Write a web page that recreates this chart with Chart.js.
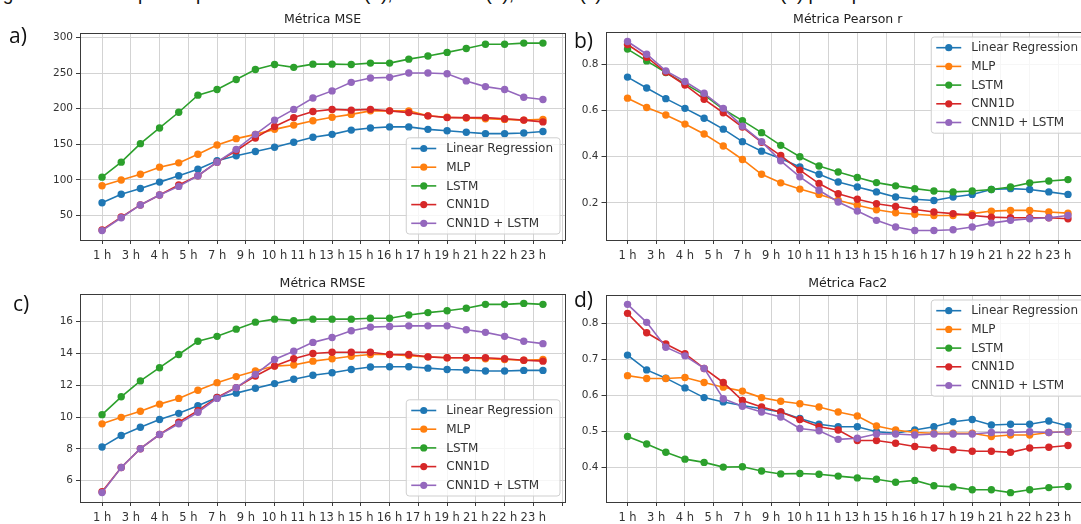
<!DOCTYPE html>
<html><head><meta charset="utf-8">
<script src="https://cdn.jsdelivr.net/npm/chart.js@4.4.1/dist/chart.umd.min.js"></script>
<style>
html,body{margin:0;padding:0;background:#fff;width:1081px;height:524px;overflow:hidden;position:relative;}
canvas{position:absolute;}
.lab{position:absolute;font-family:"Open Sans","Liberation Sans",sans-serif;font-size:21px;color:#111;line-height:1;}
#cap{position:absolute;left:-13px;top:-17px;font-family:"Liberation Sans",sans-serif;font-size:19px;white-space:nowrap;color:#111;line-height:1.2;}
</style></head><body>
<div id="cap">Figura 9 – Desempenho por horizonte: MSE (a), Pearson r (b), RMSE (c) e fator de dois Fac2 (d) para previsões</div>
<canvas id="cA" width="575" height="262" style="left:0;top:0"></canvas>
<canvas id="cB" width="560" height="262" style="left:540px;top:0"></canvas>
<canvas id="cC" width="575" height="262" style="left:0;top:262px"></canvas>
<canvas id="cD" width="560" height="262" style="left:540px;top:262px"></canvas>
<div class="lab" style="left:9px;top:25px">a)</div>
<div class="lab" style="left:574px;top:30px">b)</div>
<div class="lab" style="left:13px;top:293px">c)</div>
<div class="lab" style="left:574px;top:289px">d)</div>
<script>
// ---- data ----
const hours = ['1 h','2 h','3 h','4 h','5 h','6 h','7 h','8 h','9 h','10 h','11 h','12 h','13 h','14 h','15 h','16 h','17 h','18 h','19 h','20 h','21 h','22 h','23 h','24 h'];
const xTickLabels = ['1 h','3 h','4 h','5 h','7 h','9 h','10 h','11 h','13 h','15 h','16 h','17 h','19 h','21 h','22 h','23 h'];
const seriesNames = ['Linear Regression','MLP','LSTM','CNN1D','CNN1D + LSTM'];
const seriesColors = ['#1f77b4','#ff7f0e','#2ca02c','#d62728','#9467bd'];

const mseLR   = [68,80,88,97,106,115,127,134,140,146,153,160,164,170,173,174.5,174.5,171,169,167,165,165,166,168];
const mseMLP  = [92,100,108,118,124,136,149,158,164,171,177,183,188,192,197,197,197,190,188,187,186,185,184,185];
const mseLSTM = [104,125,151,173,195,219,227,241,255,262,258,262.5,262.5,262,264,264,269.5,274,279,284.5,290.5,290.5,292,292];
const mseCNN  = [30,48,65,79,93,106,125,141,159,175,187.5,196,199,198,199,197,194.5,190,187.5,187.5,187.5,186,184,181.5];
const mseCL   = [29,47,65,79,91,106,125,143,164,184,199,215,225,237,243,244,250,250,249,239,231,227,216,213];

const prLR   = [.744,.697,.651,.609,.566,.519,.465,.424,.392,.356,.324,.291,.269,.248,.226,.216,.211,.226,.237,.258,.262,.258,.248,.237];
const prMLP  = [.653,.613,.580,.541,.498,.446,.388,.324,.287,.260,.237,.212,.190,.171,.158,.151,.146,.146,.154,.165,.168,.168,.161,.156];
const prLSTM = [.865,.814,.764,.715,.667,.605,.556,.504,.449,.400,.360,.334,.310,.288,.274,.262,.252,.248,.252,.258,.269,.287,.295,.301];
const prCNN  = [.885,.830,.765,.710,.648,.590,.528,.462,.405,.342,.284,.240,.216,.197,.185,.172,.161,.154,.146,.139,.136,.136,.136,.132];
const prCL   = [.898,.843,.771,.725,.674,.609,.532,.465,.382,.313,.255,.204,.165,.125,.096,.081,.081,.084,.096,.113,.125,.132,.136,.146];

const rmLR   = [8.12,8.84,9.36,9.84,10.23,10.71,11.23,11.5,11.81,12.1,12.37,12.62,12.78,12.99,13.14,13.16,13.16,13.07,12.99,12.95,12.89,12.89,12.93,12.93];
const rmMLP  = [9.57,9.98,10.36,10.81,11.17,11.68,12.16,12.54,12.89,13.2,13.27,13.51,13.66,13.82,13.93,13.93,13.86,13.78,13.72,13.72,13.66,13.61,13.57,13.61];
const rmLSTM = [10.15,11.27,12.27,13.10,13.93,14.76,15.07,15.52,15.96,16.15,16.06,16.15,16.15,16.15,16.21,16.21,16.41,16.56,16.68,16.83,17.08,17.08,17.14,17.08];
const rmCNN  = [5.3,6.83,8.01,8.9,9.67,10.4,11.23,11.85,12.58,13.2,13.66,13.99,14.07,14.07,14.07,13.93,13.93,13.78,13.72,13.72,13.72,13.66,13.57,13.51];
const rmCL   = [5.25,6.83,8.01,8.9,9.57,10.3,11.17,11.85,12.68,13.61,14.13,14.69,15.0,15.42,15.65,15.69,15.73,15.73,15.73,15.48,15.32,15.07,14.76,14.61];

const fcLR   = [.711,.670,.647,.620,.593,.581,.571,.562,.553,.535,.519,.512,.512,.498,.494,.503,.512,.526,.532,.517,.519,.519,.528,.514];
const fcMLP  = [.654,.646,.646,.649,.635,.622,.611,.593,.583,.576,.567,.553,.542,.514,.503,.496,.494,.494,.494,.485,.489,.489,.496,.498];
const fcLSTM = [.485,.464,.441,.422,.413,.400,.401,.389,.381,.382,.380,.375,.370,.366,.358,.363,.348,.345,.337,.337,.329,.337,.343,.346];
const fcCNN  = [.827,.773,.742,.715,.674,.635,.585,.567,.553,.532,.512,.503,.474,.474,.466,.457,.453,.448,.444,.444,.441,.453,.455,.460];
const fcCL   = [.852,.802,.733,.709,.674,.590,.569,.553,.539,.507,.501,.477,.480,.492,.492,.489,.492,.492,.492,.496,.496,.498,.496,.498];

const yTicksMSE  = [50,100,150,200,250,300];
const yTicksPR   = [0.2,0.4,0.6,0.8];
const yTicksRMSE = [6,8,10,12,14,16];
const yTicksFAC  = [0.4,0.5,0.6,0.7,0.8];

// ---- drawing ----
const Y_FONT = {family:'"DejaVu Sans", sans-serif', size:10.5};
const X_FONT = {family:'"DejaVu Sans", sans-serif', size:11.5};
const xTickPos = []; for (let k = 0; k <= 16; k++) xTickPos.push(k * 1.5);

const framePlugin = {
  id:'frame',
  afterDatasetsDraw(chart){
    const {ctx, chartArea:a} = chart;
    ctx.save(); ctx.strokeStyle = '#3a3a3a'; ctx.lineWidth = 1;
    ctx.strokeRect(Math.round(a.left)+0.5, Math.round(a.top)+0.5, Math.round(a.right-a.left), Math.round(a.bottom-a.top));
    ctx.restore();
  }
};
const titleLegendPlugin = {
  id:'titleLegend',
  afterDraw(chart, args, o){
    const {ctx, chartArea:a} = chart;
    ctx.save();
    ctx.font = '12.5px "DejaVu Sans", sans-serif';
    ctx.fillStyle = '#222'; ctx.textAlign = 'center'; ctx.textBaseline = 'middle';
    ctx.fillText(o.title, (a.left + a.right)/2, a.top - o.dy);
    // legend
    ctx.font = '12px "DejaVu Sans", sans-serif';
    const ds = chart.data.datasets;
    let tw = 0; ds.forEach(d => tw = Math.max(tw, ctx.measureText(d.label).width));
    const rowH = 18.7, padX = 5, handle = 25, gap = 10, edge = 10.7;
    const w = padX + handle + gap + tw + 7, h = 2*edge + (ds.length-1)*rowH;
    const right = a.right - 5;
    const x0 = right - w;
    const y0 = o.loc === 'lower' ? a.bottom - 6 - h : a.top + 5;
    ctx.beginPath();
    if (ctx.roundRect) ctx.roundRect(x0, y0, w, h, 3); else ctx.rect(x0, y0, w, h);
    ctx.fillStyle = 'rgba(255,255,255,0.8)'; ctx.fill();
    ctx.strokeStyle = '#cfcfcf'; ctx.lineWidth = 1; ctx.stroke();
    ctx.textAlign = 'left';
    ds.forEach((d, k) => {
      const y = y0 + edge + k*rowH;
      ctx.strokeStyle = d.borderColor; ctx.lineWidth = 1.6;
      ctx.beginPath(); ctx.moveTo(x0+padX, y); ctx.lineTo(x0+padX+handle, y); ctx.stroke();
      ctx.fillStyle = d.borderColor;
      ctx.beginPath(); ctx.arc(x0+padX+handle/2, y, 3.6, 0, Math.PI*2); ctx.fill();
      ctx.fillStyle = '#333';
      ctx.fillText(d.label, x0+padX+handle+gap, y+0.5);
    });
    ctx.restore();
  }
};

function makePanel(id, series, yTicks, yMin, yMax, decimals, cfg){
  const datasets = series.map((vals, k) => ({
    label: seriesNames[k],
    data: vals.map((v, i) => ({x: i, y: v, h: hours[i]})),
    borderColor: seriesColors[k],
    backgroundColor: seriesColors[k],
    pointBackgroundColor: seriesColors[k],
    pointBorderColor: seriesColors[k],
    borderWidth: 1.6,
    pointRadius: 3.7,
    pointBorderWidth: 0,
    tension: 0,
    order: series.length - k
  }));
  new Chart(document.getElementById(id), {
    type: 'line',
    data: {datasets},
    plugins: [framePlugin, titleLegendPlugin],
    options: {
      responsive: false, animation: false, devicePixelRatio: 1,
      layout: {padding: {left: 0, right: cfg.padRight, top: cfg.padTop, bottom: 0}},
      plugins: {legend: {display: false}, tooltip: {enabled: false},
        titleLegend: {title: cfg.title, dy: cfg.dy, loc: cfg.loc}},
      scales: {
        x: {
          type: 'linear', min: -1.15, max: 24.15,
          afterBuildTicks: s => { s.ticks = xTickPos.map(v => ({value: v})); },
          afterFit: s => { s.height = 22; },
          ticks: {autoSkip: false, maxRotation: 0, minRotation: 0, padding: 5, color: '#333', font: X_FONT,
            callback: (v, i) => (xTickLabels[i] !== undefined ? xTickLabels[i] : '')},
          grid: {color: '#d3d3d3', lineWidth: 1, drawTicks: true, tickLength: 4, tickColor: '#3a3a3a', tickWidth: 1},
          border: {display: false}
        },
        y: {
          type: 'linear', min: yMin, max: yMax,
          afterBuildTicks: s => { s.ticks = yTicks.map(v => ({value: v})); },
          afterFit: s => { s.width = cfg.yWidth; },
          ticks: {padding: 3, color: '#333', font: Y_FONT, callback: v => v.toFixed(decimals)},
          grid: {color: '#d3d3d3', lineWidth: 1, drawTicks: true, tickLength: 4, tickColor: '#3a3a3a', tickWidth: 1},
          border: {display: false}
        }
      }
    }
  });
}

makePanel('cA', [mseLR, mseMLP, mseLSTM, mseCNN, mseCL], yTicksMSE, 15.8, 306.2, 0,
  {title: 'Métrica MSE', dy: 13, loc: 'lower', padRight: 10, padTop: 33, yWidth: 80});
makePanel('cB', [prLR, prMLP, prLSTM, prCNN, prCL], yTicksPR, 0.040, 0.939, 1,
  {title: 'Métrica Pearson r', dy: 12, loc: 'upper', padRight: 10, padTop: 32, yWidth: 65.5});
makePanel('cC', [rmLR, rmMLP, rmLSTM, rmCNN, rmCL], yTicksRMSE, 4.66, 17.73, 0,
  {title: 'Métrica RMSE', dy: 10, loc: 'lower', padRight: 10, padTop: 32, yWidth: 80});
makePanel('cD', [fcLR, fcMLP, fcLSTM, fcCNN, fcCL], yTicksFAC, 0.303, 0.878, 1,
  {title: 'Métrica Fac2', dy: 11, loc: 'upper', padRight: 10, padTop: 33, yWidth: 65.5});
</script>
</body></html>
